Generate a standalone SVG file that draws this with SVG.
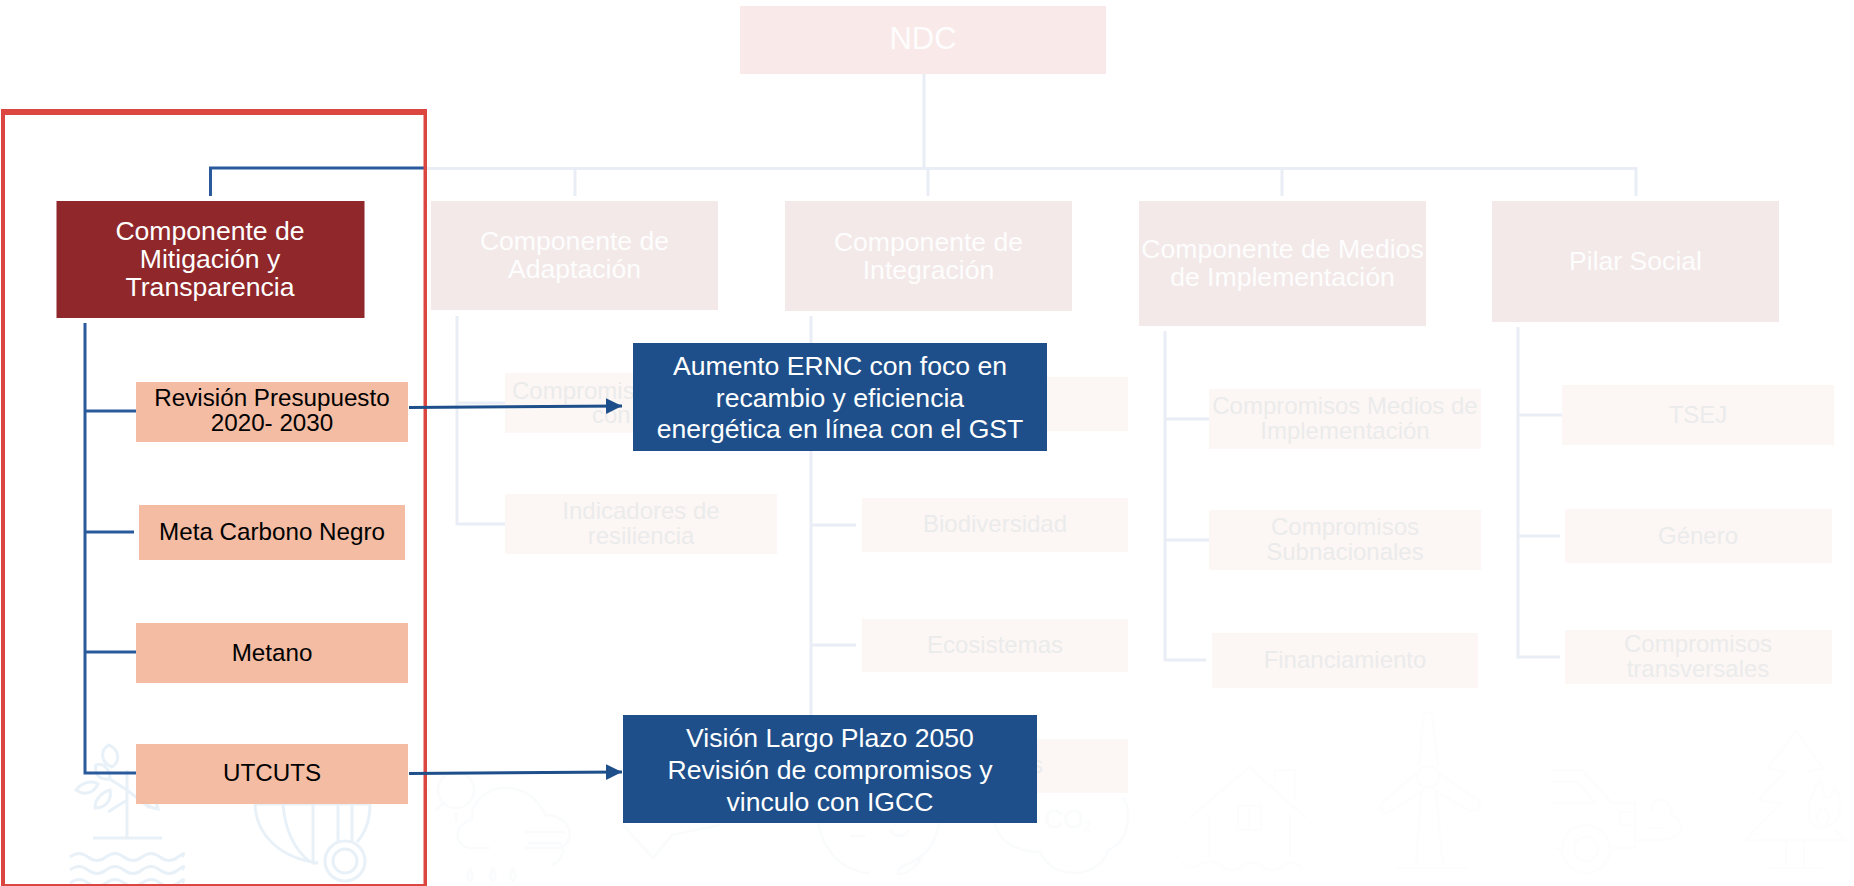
<svg xmlns="http://www.w3.org/2000/svg" width="1854" height="886" viewBox="0 0 1854 886">
<style>
text{font-family:"Liberation Sans",Arial,sans-serif;text-anchor:middle}
.top{fill:#f9e9e9}.comp{fill:#f3e9e9}.pale{fill:#fcf7f5}.org{fill:#f3bca3}.call{fill:#1e4f8a}
.tw{font-size:26.6px;fill:#fdfdfd}.tb{font-size:24.2px;fill:#000}.tp{font-size:24px;fill:#ebebec}.tc{font-size:26.6px;fill:#fff}
.lt{stroke:#e9eef6;stroke-width:3;fill:none}.bl{stroke:#2a5a9b;stroke-width:3;fill:none}.ar{stroke:#1e4f8a;stroke-width:3;fill:none;marker-end:url(#ah)}
.i1{stroke:#e9f1f8;stroke-width:3;fill:none}.i2{stroke:#fafbfc;stroke-width:2.500;fill:none}.i3{stroke:#fdfdfe;stroke-width:2.500;fill:none}
</style>
<defs><marker id="ah" markerUnits="userSpaceOnUse" markerWidth="16" markerHeight="18" refX="16" refY="8" orient="auto"><path d="M0 0L16 8L0 16Z" fill="#1e4f8a"/></marker></defs>
<rect width="1854" height="886" fill="#fff"/>
<g id="watermark">
<g class="i1">
<path d="M127 770V838M93 838H162M127 790L108 778M127 800L108 812M127 790L150 808"/>
<path d="M109 745C120 750 120 762 112 767C100 762 100 750 109 745ZM96 765C104 762 110 770 110 779C100 780 94 775 96 765ZM76 790C82 782 92 780 98 784C94 793 84 796 76 790ZM95 808C95 798 103 792 110 790C112 800 106 808 95 808ZM140 788C150 792 156 800 158 809C148 808 142 800 140 788Z"/>
<path d="M70 857q9-7 18 0t18 0t18 0t18 0t18 0t18 0t4 0M70 870q9-7 18 0t18 0t18 0t18 0t18 0t18 0t4 0M70 883q9-7 18 0t18 0t18 0t18 0t18 0t18 0t4 0"/>
<path d="M255 804C256 835 280 858 318 863M283 804C285 830 295 850 310 862M313 804V863H318M255 804H370M370 804C370 820 365 833 357 842"/>
<circle cx="345" cy="861" r="20"/><circle cx="345" cy="861" r="12"/><path d="M338 804V842M352 804V842"/>
</g>
<g class="i2">
<circle cx="456" cy="790" r="18"/><path d="M436 810L444 802M456 822V812M430 790H424"/>
<path d="M490 848H470C452 846 454 822 472 820C470 800 490 786 510 788C528 790 540 802 545 815C570 815 578 840 560 848H525"/>
<path d="M525 832H565M528 843H560C566 850 562 860 552 865"/>
<path d="M470 868q-5 9 0 13q5-4 0-13M493 868q-5 9 0 13q5-4 0-13M513 868q-5 9 0 13q5-4 0-13"/>
<path d="M623 825L653 858L672 835L720 825"/>
<path d="M818 823C825 855 845 872 870 873M939 823C935 845 925 858 905 865C898 868 896 874 900 874C912 874 922 858 925 852M850 836H865M890 830C895 838 905 838 908 830"/>
<path d="M994 815C994 838 1012 852 1040 852C1048 868 1062 873 1075 873C1092 873 1105 862 1108 850C1122 845 1128 830 1128 815C1128 805 1125 800 1122 798"/>
</g>
<text x="1068" y="828" style="font-size:26px;fill:#fafbfc">CO<tspan font-size="14" dy="3">2</tspan></text>
<g class="i3">
<path d="M1190 818L1249 767L1306 818M1209 815V858M1290 815V858M1275 782V770H1295V800M1238 806H1261V830H1238ZM1249 806V830M1182 862q10 8 20 2t20 2t20 0t20 0t20 0t20 2"/>
<circle cx="1428" cy="777" r="11"/><path d="M1419 766L1424 714Q1428 710 1432 714L1438 766M1416 773L1381 804Q1380 814 1388 813L1424 790M1439 773L1480 802V810L1470 811L1434 790M1421 792L1416 866M1436 792L1443 866M1395 868H1467"/>
<circle cx="1586" cy="849" r="24"/><circle cx="1586" cy="849" r="12"/>
<path d="M1552 770H1582L1612 803H1635V848H1611M1553 782H1578L1595 803H1553M1620 812H1635V825H1620ZM1555 849H1562M1635 840H1660C1680 840 1690 825 1672 815C1670 795 1650 795 1652 812M1650 828H1665"/>
<path d="M1796 731L1768 768L1785 772L1758 800L1782 803L1745 840H1845L1835 830M1796 731L1823 768L1808 772M1786 840V868M1804 840V868M1770 868H1822"/>
<path d="M1820 780C1826 790 1820 800 1830 797L1835 788C1845 800 1842 825 1822 828C1805 828 1804 805 1820 780ZM1822 808C1815 815 1815 824 1823 826C1832 822 1830 812 1822 808Z"/>
</g>
</g>
<g id="connectors">
<path class="lt" d="M424 168.500H1636V196M924 74V168M575 168V196M928 168V196M1282 168V196"/>
<path class="lt" d="M457 316V524H505M457 403H505"/>
<path class="lt" d="M811 316V715M811 525H856M811 645H856"/>
<path class="lt" d="M1165 331V660H1206M1165 419H1209M1165 540H1209"/>
<path class="lt" d="M1518 327V657H1560M1518 415H1562M1518 536H1560"/>
<path class="bl" d="M210.500 196V168H424"/>
<path class="bl" d="M85 323V773H136M85 411H136M85 532H134M85 652H136"/>
</g>
<g id="node-ndc"><rect class="top" x="740" y="6" width="366" height="68"/><text x="923" y="49" style="font-size:31px;fill:#fdfdfd">NDC</text></g>
<g id="node-adaptacion"><rect class="comp" x="431" y="201" width="287" height="109"/><text class="tw" x="574.500" y="250">Componente de</text><text class="tw" x="574.500" y="278">Adaptación</text></g>
<g id="node-integracion"><rect class="comp" x="785" y="201" width="287" height="110"/><text class="tw" x="928.500" y="251">Componente de</text><text class="tw" x="928.500" y="279">Integración</text></g>
<g id="node-medios"><rect class="comp" x="1139" y="201" width="287" height="125"/><text class="tw" x="1282.500" y="258">Componente de Medios</text><text class="tw" x="1282.500" y="286">de Implementación</text></g>
<g id="node-pilar"><rect class="comp" x="1492" y="201" width="287" height="121"/><text class="tw" x="1635.500" y="270">Pilar Social</text></g>
<g id="node-comp-adapt"><rect class="pale" x="505" y="373" width="272" height="60"/><text class="tp" x="512" y="399" style="text-anchor:start">Compromisos</text><text class="tp" x="592" y="423" style="text-anchor:start">con</text></g>
<g id="node-indicadores"><rect class="pale" x="505" y="494" width="272" height="60"/><text class="tp" x="641" y="519">Indicadores de</text><text class="tp" x="641" y="544">resiliencia</text></g>
<g id="node-int1"><rect class="pale" x="862" y="377" width="266" height="54"/></g>
<g id="node-biodiversidad"><rect class="pale" x="862" y="498" width="266" height="54"/><text class="tp" x="995" y="532">Biodiversidad</text></g>
<g id="node-ecosistemas"><rect class="pale" x="862" y="619" width="266" height="53"/><text class="tp" x="995" y="653">Ecosistemas</text></g>
<g id="node-int4"><rect class="pale" x="862" y="739" width="266" height="54"/><text class="tp" x="1043" y="773" style="text-anchor:end">s</text></g>
<g id="node-comp-medios"><rect class="pale" x="1209" y="389" width="272" height="60"/><text class="tp" x="1345" y="414">Compromisos Medios de</text><text class="tp" x="1345" y="439">Implementación</text></g>
<g id="node-subnacionales"><rect class="pale" x="1209" y="510" width="272" height="60"/><text class="tp" x="1345" y="535">Compromisos</text><text class="tp" x="1345" y="560">Subnacionales</text></g>
<g id="node-financiamiento"><rect class="pale" x="1212" y="633" width="266" height="55"/><text class="tp" x="1345" y="668">Financiamiento</text></g>
<g id="node-tsej"><rect class="pale" x="1562" y="385" width="272" height="60"/><text class="tp" x="1698" y="423">TSEJ</text></g>
<g id="node-genero"><rect class="pale" x="1565" y="509" width="267" height="54"/><text class="tp" x="1698" y="544">Género</text></g>
<g id="node-transversales"><rect class="pale" x="1565" y="630" width="267" height="54"/><text class="tp" x="1698" y="652">Compromisos</text><text class="tp" x="1698" y="677">transversales</text></g>
<g id="node-mitigacion"><rect fill="#8f272b" x="56.500" y="201" width="308" height="117"/><text class="tc" x="210" y="240">Componente de</text><text class="tc" x="210" y="268">Mitigación y</text><text class="tc" x="210" y="296">Transparencia</text></g>
<g id="node-revision"><rect class="org" x="136" y="382" width="272" height="60"/><text class="tb" x="272" y="406">Revisión Presupuesto</text><text class="tb" x="272" y="431">2020- 2030</text></g>
<g id="node-carbono"><rect class="org" x="139" y="505" width="266" height="55"/><text class="tb" x="272" y="540">Meta Carbono Negro</text></g>
<g id="node-metano"><rect class="org" x="136" y="623" width="272" height="60"/><text class="tb" x="272" y="661">Metano</text></g>
<g id="node-utcuts"><rect class="org" x="136" y="744" width="272" height="60"/><text class="tb" x="272" y="781">UTCUTS</text></g>
<path id="frame" fill-rule="evenodd" fill="#db4640" d="M1 109H427V886H1ZM5 115V884H423.500V115Z"/>
<g id="node-aumento"><rect class="call" x="633" y="343" width="414" height="108"/><text class="tc" x="840" y="375">Aumento ERNC con foco en</text><text class="tc" x="840" y="407">recambio y eficiencia</text><text class="tc" x="840" y="438">energética en línea con el GST</text></g>
<g id="node-vision"><rect class="call" x="623" y="715" width="414" height="108"/><text class="tc" x="830" y="747">Visión Largo Plazo 2050</text><text class="tc" x="830" y="779">Revisión de compromisos y</text><text class="tc" x="830" y="811">vinculo con IGCC</text></g>
<g id="arrows"><path class="ar" d="M409 407.500L622 406"/><path class="ar" d="M409 773.500L622 772"/></g>
</svg>
